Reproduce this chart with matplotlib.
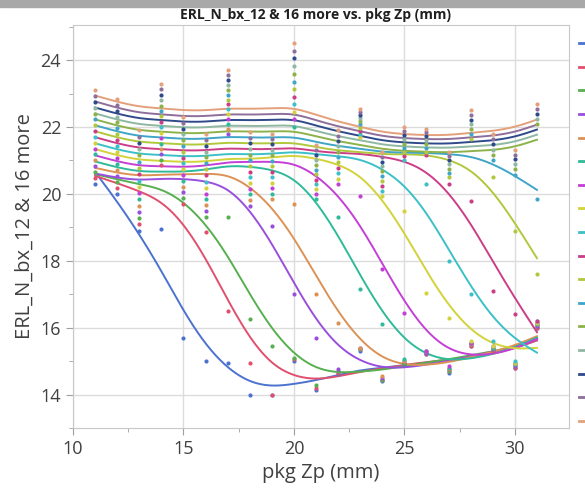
import numpy as np
import matplotlib.pyplot as plt
from matplotlib.lines import Line2D
from matplotlib.patches import Rectangle

plt.rcParams['font.family'] = ['Open Sans', 'DejaVu Sans']

# pkg Zp (mm)
pkg_zp = [11, 12, 13, 14, 15, 16, 17, 18, 19, 20, 21, 22, 23, 24, 25, 26, 27, 28, 29, 30, 31]

# valeurs, une liste par colonne ERL_N_bx
series_01 = [20.30, 20.00, 18.90, 18.95, 15.70, 15.00, 14.95, 14.00, 14.00, 15.00, 14.15,
             14.60, 15.30, 14.40, 14.90, 15.20, 14.65, 15.45, 15.30, 14.80, 16.00]
series_02 = [20.48, 20.18, 19.09, 20.85, 19.70, 18.85, 16.50, 14.95, 14.00, 15.05, 14.20,
             14.65, 15.35, 14.45, 14.95, 15.20, 14.70, 15.45, 15.30, 14.80, 16.00]
series_03 = [20.65, 20.36, 19.28, 21.01, 19.87, 19.30, 19.30, 16.25, 15.45, 15.10, 14.30,
             14.70, 15.35, 14.45, 14.95, 15.25, 14.70, 15.50, 15.35, 14.85, 16.05]
series_04 = [20.83, 20.53, 19.46, 21.18, 20.05, 19.48, 21.80, 19.65, 19.05, 17.00, 15.70,
             14.75, 15.40, 14.50, 15.00, 15.25, 14.75, 15.50, 15.35, 14.85, 16.05]
series_05 = [21.00, 20.71, 19.65, 21.34, 20.22, 19.66, 21.95, 19.82, 19.85, 19.70, 17.00,
             16.15, 15.40, 14.55, 15.00, 15.30, 14.75, 15.50, 15.40, 14.90, 16.10]
series_06 = [21.18, 20.89, 19.84, 21.50, 20.39, 19.84, 22.09, 19.99, 20.01, 22.00, 19.85,
             19.30, 17.15, 16.10, 15.05, 15.30, 14.80, 15.55, 15.40, 14.90, 16.10]
series_07 = [21.35, 21.07, 20.03, 21.67, 20.57, 20.01, 22.24, 20.16, 20.18, 22.23, 19.99,
             20.30, 19.95, 17.75, 16.45, 15.30, 14.85, 15.55, 15.45, 14.95, 16.15]
series_08 = [21.53, 21.25, 20.21, 21.83, 20.74, 20.19, 22.38, 20.33, 20.34, 22.45, 20.14,
             20.46, 21.70, 19.95, 19.50, 17.05, 16.30, 15.60, 15.45, 14.95, 16.15]
series_09 = [21.70, 21.42, 20.40, 21.99, 20.91, 20.37, 22.53, 20.50, 20.50, 22.68, 20.29,
             20.62, 21.79, 20.09, 21.00, 20.30, 18.00, 17.00, 15.60, 15.00, 16.20]
series_10 = [21.88, 21.60, 20.59, 22.15, 21.08, 20.55, 22.68, 20.66, 20.66, 22.91, 20.43,
             20.78, 21.89, 20.24, 21.13, 21.15, 20.30, 19.80, 17.10, 16.40, 16.20]
series_11 = [22.05, 21.78, 20.78, 22.32, 21.26, 20.73, 22.82, 20.83, 20.83, 23.14, 20.58,
             20.94, 21.98, 20.38, 21.25, 21.26, 20.50, 21.65, 20.50, 18.90, 17.60]
series_12 = [22.23, 21.96, 20.96, 22.48, 21.43, 20.91, 22.97, 21.00, 20.99, 23.36, 20.72,
             21.10, 22.08, 20.53, 21.38, 21.38, 20.63, 21.79, 21.00, 20.55, 19.85]
series_13 = [22.40, 22.14, 21.15, 22.64, 21.60, 21.09, 23.12, 21.17, 21.15, 23.59, 20.87,
             21.26, 22.17, 20.67, 21.50, 21.49, 20.75, 21.93, 21.16, 20.75, 22.10]
series_14 = [22.58, 22.31, 21.34, 22.81, 21.78, 21.26, 23.26, 21.34, 21.31, 23.82, 21.01,
             21.42, 22.27, 20.82, 21.63, 21.61, 20.88, 22.08, 21.32, 20.89, 22.25]
series_15 = [22.75, 22.49, 21.53, 22.97, 21.95, 21.44, 23.41, 21.51, 21.48, 24.05, 21.16,
             21.58, 22.36, 20.96, 21.75, 21.72, 21.00, 22.22, 21.48, 21.03, 22.40]
series_16 = [22.93, 22.67, 21.71, 23.13, 22.12, 21.62, 23.55, 21.68, 21.64, 24.27, 21.30,
             21.74, 22.46, 21.11, 21.88, 21.84, 21.13, 22.36, 21.64, 21.16, 22.55]
series_17 = [23.10, 22.85, 21.90, 23.30, 22.30, 21.80, 23.70, 21.85, 21.80, 24.50, 21.45,
             21.90, 22.55, 21.25, 22.00, 21.95, 21.25, 22.50, 21.80, 21.30, 22.70]

series = [series_01, series_02, series_03, series_04, series_05, series_06, series_07,
          series_08, series_09, series_10, series_11, series_12, series_13, series_14,
          series_15, series_16, series_17]

couleurs = ['#4C72D0', '#E0506E', '#56B04E', '#9A4FDC', '#DC9255', '#2FBA9A', '#C43FD6',
            '#D2D23A', '#3CC0C8', '#CC3D88', '#B2C83C', '#3FA6C8', '#8DB24A', '#8FB8A2',
            '#2F4A8A', '#8E6E9A', '#E3A07A']


def lissage(x, y, lam=4.0):
    # spline de lissage (moindres carres penalises sur la derivee seconde)
    grille = np.linspace(x[0], x[-1], 401)
    h = grille[1] - grille[0]
    n = len(grille)
    idx = np.round((np.asarray(x) - x[0]) / h).astype(int)
    w = np.zeros(n)
    b = np.zeros(n)
    w[idx] = 1.0
    b[idx] = y
    d = np.diff(np.eye(n), 2, axis=0) / h ** 2
    a = np.diag(w) + lam * h * d.T @ d
    return grille, np.linalg.solve(a, b)


fig = plt.figure(figsize=(5.85, 4.90), dpi=100)
ax = fig.add_axes([73 / 585, 1 - 428 / 490, 496 / 585, 403 / 490])

for y, c in zip(series, couleurs):
    gx, gy = lissage(pkg_zp, y)
    ax.plot(gx, gy, color=c, linewidth=1.4, zorder=2)

for y, c in zip(series, couleurs):
    ax.scatter(pkg_zp, y, color=c, s=9, linewidths=0, zorder=3)

# Caracteristiques du plot
ax.set_xlim(10, 32.45)
ax.set_ylim(13, 25.05)
ax.set_xticks([10, 15, 20, 25, 30])
ax.set_xticks(np.arange(12.5, 32.5, 5), minor=True)
ax.set_yticks([14, 16, 18, 20, 22, 24])
ax.set_yticks([13, 15, 17, 19, 21, 23, 25], minor=True)
ax.grid(True, which='major', color='#dcdcdc', linewidth=1)
ax.set_axisbelow(True)
ax.tick_params(which='major', length=5, color='#a0a0a0', labelsize=13, labelcolor='#404040')
ax.tick_params(which='minor', length=3, color='#a0a0a0')
for s in ax.spines.values():
    s.set_color('#c8c8c8')

ax.set_xlabel('pkg Zp (mm)', fontsize=14.5, color='#404040', labelpad=4)
ax.set_ylabel('ERL_N_bx_12 & 16 more', fontsize=14.5, color='#404040', labelpad=4)
fig.text(0.54, 1 - 15 / 490, 'ERL_N_bx_12 & 16 more vs. pkg Zp (mm)', ha='center', va='center',
         fontsize=10, fontweight='bold', color='#202020')

# barre grise en haut
fig.add_artist(Rectangle((0, 1 - 7 / 490), 1, 7 / 490, transform=fig.transFigure,
                         color='#a8a8a8', zorder=0))

# legende coupee a droite
poignees = [Line2D([0], [0], color=c, linewidth=2) for c in couleurs]
fig.legend(poignees, [''] * len(poignees), loc='upper left',
           bbox_to_anchor=(572 / 585, 1 - 30 / 490), frameon=False,
           handlelength=1.4, labelspacing=0.62, borderpad=0, handletextpad=0)

fig.savefig('out.png', dpi=100)
